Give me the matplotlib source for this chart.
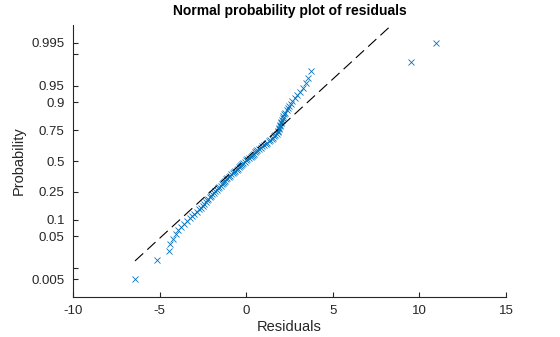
import numpy as np
import matplotlib
matplotlib.use("Agg")
import matplotlib.pyplot as plt
from statistics import NormalDist

# sorted residuals (100 points)
residuals = [
    -6.42, -5.15, -4.44, -4.40, -4.20, -4.08, -3.92, -3.74, -3.57, -3.40,
    -3.26, -3.11, -2.99, -2.86, -2.74, -2.63, -2.52, -2.43, -2.35, -2.28,
    -2.21, -2.12, -2.03, -1.95, -1.87, -1.79, -1.71, -1.63, -1.55, -1.48,
    -1.40, -1.33, -1.27, -1.21, -1.17, -1.11, -1.01, -0.92, -0.85, -0.76,
    -0.69, -0.62, -0.55, -0.49, -0.42, -0.36, -0.29, -0.23, -0.16, -0.09,
    0.00, 0.07, 0.17, 0.27, 0.36, 0.41, 0.46, 0.50, 0.55, 0.65,
    0.76, 0.83, 0.92, 1.02, 1.12, 1.20, 1.30, 1.39, 1.47, 1.54,
    1.62, 1.68, 1.75, 1.82, 1.86, 1.88, 1.91, 1.95, 1.96, 1.99,
    2.01, 2.06, 2.10, 2.14, 2.20, 2.25, 2.34, 2.41, 2.48, 2.56,
    2.67, 2.81, 2.93, 3.08, 3.29, 3.48, 3.59, 3.75, 9.51, 10.94,
]
# fitted normal reference line (mean, sd) as seen in the plot
line_mu = -0.145
line_sigma = 2.878

prob_ticks = [0.005, 0.01, 0.05, 0.1, 0.25, 0.5, 0.75, 0.9, 0.95, 0.99, 0.995]
prob_labels = ["0.005", "", "0.05", "0.1", "0.25", "0.5", "0.75", "0.9", "0.95", "", "0.995"]
x_ticks = [-10, -5, 0, 5, 10, 15]

nd = NormalDist()
x = np.sort(np.array(residuals))
n = len(x)
z = np.array([nd.inv_cdf((i - 0.5) / n) for i in range(1, n + 1)])

plt.rcParams["font.family"] = ["Liberation Sans", "DejaVu Sans"]

fig = plt.figure(figsize=(5.6, 3.37), dpi=100)
ax = fig.add_axes([0.1304, 0.1187, 0.7732, 0.8071])

ax.plot(x, z, "x", color="#0072BD", markersize=5, markeredgewidth=0.6, zorder=2)
xl = np.array([x.min(), x.max()])
ax.plot(xl, (xl - line_mu) / line_sigma, color="k", lw=0.8,
        linestyle=(0, (10, 5)), zorder=3)

ax.set_xlim(-10, 15)
ax.set_ylim(nd.inv_cdf(0.0015), nd.inv_cdf(0.9985))
ax.set_xticks(x_ticks)
ax.set_xticklabels([str(t) for t in x_ticks])
ax.set_yticks([nd.inv_cdf(p) for p in prob_ticks])
ax.set_yticklabels(prob_labels)

for s in ["top", "right"]:
    ax.spines[s].set_visible(False)
for s in ["left", "bottom"]:
    ax.spines[s].set_linewidth(0.8)
    ax.spines[s].set_color("#262626")
ax.tick_params(direction="in", length=3.5, width=0.8, labelsize=9.5,
               colors="#262626", pad=6)

ax.set_xlabel("Residuals", fontsize=10.5, color="#262626", labelpad=2)
ax.set_ylabel("Probability", fontsize=10.5, color="#262626", labelpad=4)
ax.set_title("Normal probability plot of residuals", fontsize=10,
             fontweight="bold", color="#000000", pad=7)

fig.savefig("out.png", dpi=100)
